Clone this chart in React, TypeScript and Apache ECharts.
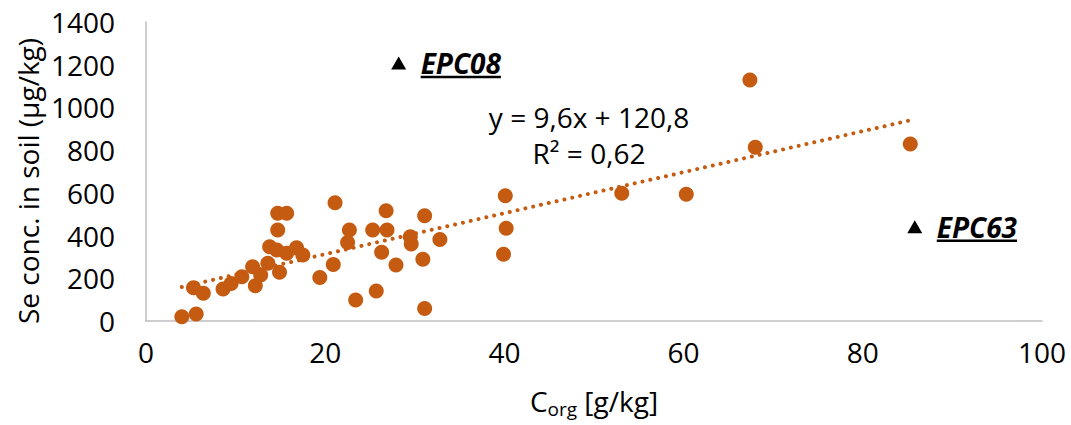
import React, { useEffect, useRef } from 'react';
import * as echarts from 'echarts';

// Organic carbon content [g/kg] of each soil sample
const corg = [
  4.0, 5.6, 5.3, 6.4, 8.6, 9.5, 10.7, 11.9, 12.8, 12.2,
  13.6, 14.9, 13.8, 14.6, 14.7, 14.7, 15.7, 15.7, 16.8, 17.5,
  19.4, 20.9, 21.1, 22.7, 22.5, 23.4, 25.3, 25.7, 26.3, 26.8,
  26.9, 27.9, 29.5, 29.6, 31.1, 30.9, 31.1, 32.8, 40.1, 40.2,
  39.9, 53.1, 60.3, 67.4, 68.0, 85.3,
];
// Se concentration in soil [µg/kg] of each soil sample
const seConc = [
  20, 33, 156, 130, 150, 176, 207, 254, 215, 165,
  270, 228, 348, 332, 426, 504, 504, 317, 343, 309,
  204, 265, 554, 426, 367, 98, 426, 140, 322, 516,
  426, 262, 395, 360, 493, 289, 59, 382, 587, 434,
  312, 598, 593, 1128, 813, 829,
];
// Outlier samples (excluded from the fit)
const outlierNames = ['EPC08', 'EPC63'];
const outlierCorg = [28.2, 85.8];
const outlierSe = [1208, 441];

// Linear trendline as printed on the chart
const trendSlope = 9.6;
const trendIntercept = 120.8;
const trendEquation = 'y = 9,6x + 120,8';
const trendR2Label = 'R² = 0,62';

// Axis ticks
const xTicks = [0, 20, 40, 60, 80, 100];
const yTicks = [0, 200, 400, 600, 800, 1000, 1200, 1400];

const FONT = 'Open Sans';
const FS = 28;
const ORANGE = '#C55A11';

export default function App() {
  const ref = useRef<HTMLDivElement>(null);

  useEffect(() => {
    if (!ref.current) return;
    const chart = echarts.init(ref.current, null, { renderer: 'svg' });
    const xMin = Math.min(...corg);
    const xMax = Math.max(...corg);

    const axisCommon = {
      type: 'value',
      axisLine: { show: true, onZero: false, lineStyle: { color: '#BFBFBF', width: 1.5 } },
      axisTick: { show: false },
      splitLine: { show: false },
    };

    chart.setOption({
      animation: false,
      grid: { left: 146, right: 29, top: 22, bottom: 104 },
      xAxis: {
        ...axisCommon,
        min: xTicks[0],
        max: xTicks[xTicks.length - 1],
        interval: xTicks[1] - xTicks[0],
        axisLabel: { fontFamily: FONT, fontSize: FS, color: '#000', margin: 17, formatter: (v: number) => String(v) },
      },
      yAxis: {
        ...axisCommon,
        min: yTicks[0],
        max: yTicks[yTicks.length - 1],
        interval: yTicks[1] - yTicks[0],
        axisLabel: { fontFamily: FONT, fontSize: FS, color: '#000', margin: 31, formatter: (v: number) => String(v) },
      },
      series: [
        {
          type: 'scatter',
          data: corg.map((x, i) => [x, seConc[i]]),
          symbol: 'circle',
          symbolSize: 15,
          itemStyle: { color: ORANGE, opacity: 1 },
          z: 2,
          silent: true,
        },
        {
          type: 'scatter',
          data: outlierCorg.map((x, i) => [x, outlierSe[i]]),
          symbol: 'triangle',
          symbolSize: [15, 13],
          itemStyle: { color: '#000', opacity: 1 },
          z: 3,
          silent: true,
        },
        {
          type: 'line',
          data: [
            [xMin, trendSlope * xMin + trendIntercept],
            [xMax, trendSlope * xMax + trendIntercept],
          ],
          symbol: 'none',
          lineStyle: { color: ORANGE, width: 4, type: [0.01, 8], cap: 'round' },
          z: 4,
          silent: true,
        },
      ],
    });

    // Measure label widths for underlines
    const canvas = document.createElement('canvas');
    const ctx = canvas.getContext('2d')!;
    ctx.font = `italic bold ${FS}px "${FONT}"`;

    const graphics: any[] = [];
    outlierNames.forEach((name, i) => {
      const p = chart.convertToPixel({ gridIndex: 0 }, [outlierCorg[i], outlierSe[i]]) as number[];
      const tx = p[0] + 22;
      const ty = p[1];
      const w = ctx.measureText(name).width;
      graphics.push({
        type: 'text',
        x: tx,
        y: ty,
        style: {
          text: name,
          fontFamily: FONT,
          fontSize: FS,
          fontWeight: 'bold',
          fontStyle: 'italic',
          fill: '#000',
          textAlign: 'left',
          textVerticalAlign: 'middle',
        },
      });
      graphics.push({
        type: 'line',
        shape: { x1: tx, y1: ty + 14, x2: tx + w, y2: ty + 14 },
        style: { stroke: '#000', lineWidth: 2.5 },
      });
    });

    graphics.push({
      type: 'text',
      x: 589,
      y: 135,
      style: {
        text: trendEquation + '\n' + trendR2Label,
        fontFamily: FONT,
        fontSize: FS,
        lineHeight: 36.5,
        fill: '#000',
        textAlign: 'center',
        textVerticalAlign: 'middle',
      },
    });

    graphics.push({
      type: 'text',
      x: 28,
      y: 181,
      rotation: Math.PI / 2,
      style: {
        text: 'Se conc. in soil (µg/kg)',
        fontFamily: FONT,
        fontSize: FS,
        fill: '#000',
        textAlign: 'center',
        textVerticalAlign: 'middle',
      },
    });

    graphics.push({
      type: 'text',
      x: 594,
      y: 401,
      style: {
        text: '{c|C}{s|org}{c| [g/kg]}',
        textAlign: 'center',
        textVerticalAlign: 'middle',
        rich: {
          c: { fontFamily: FONT, fontSize: FS, fill: '#000', lineHeight: 34, verticalAlign: 'middle' },
          s: { fontFamily: FONT, fontSize: 19, fill: '#000', lineHeight: 19, verticalAlign: 'bottom' },
        },
      },
    });

    chart.setOption({ graphic: graphics });

    return () => chart.dispose();
  }, []);

  return (
    <div
      ref={ref}
      style={{ position: 'absolute', left: 0, top: 0, width: 1071, height: 425, background: '#fff' }}
    />
  );
}
